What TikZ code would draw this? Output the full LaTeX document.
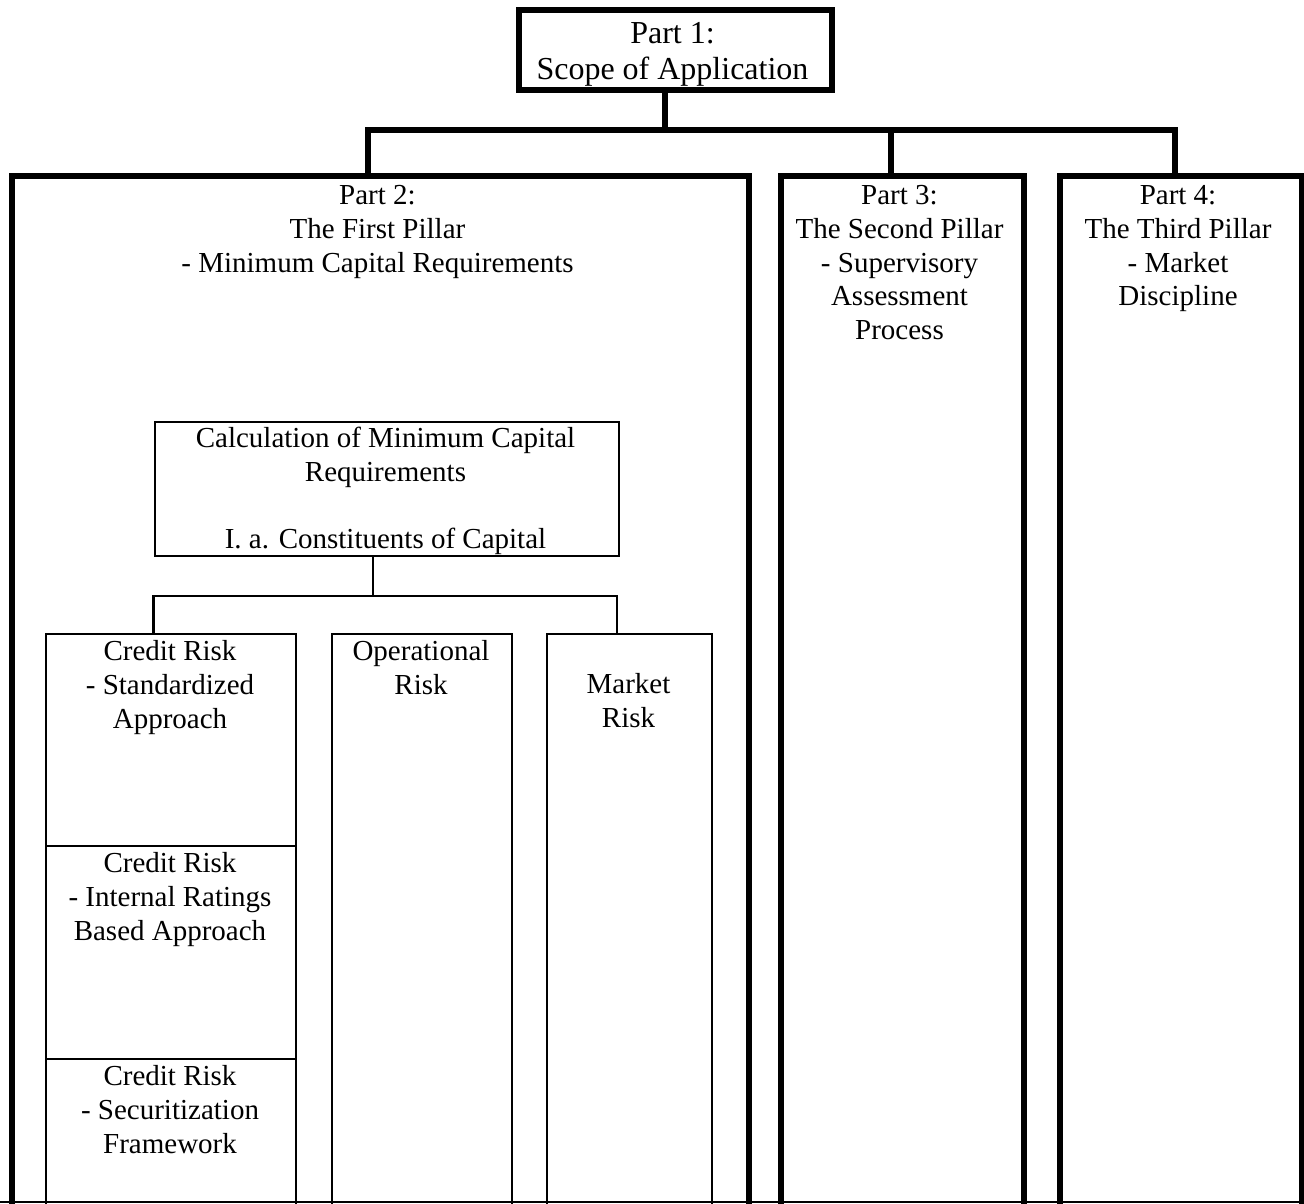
\documentclass[tikz,border=0pt]{standalone}
\usepackage{fontspec}
\setmainfont{Liberation Serif}
\newcommand\mybodyfont{\fontsize{29}{33.7}\selectfont}
\newcommand\mytitlefont{\fontsize{32}{36}\selectfont}
\begin{document}
\begin{tikzpicture}[x=1pt,y=-1pt,
  thickbox/.style={draw,line width=5.5pt,rectangle,inner sep=0pt,anchor=north west},
  thinbox/.style={draw,line width=2.2pt,rectangle,inner sep=0pt,anchor=north west},
  thickline/.style={line width=5.5pt},
  thinline/.style={line width=2.2pt},
  txt/.style={anchor=north,inner sep=0pt,align=center,font=\mybodyfont},
]
\clip (0,0) rectangle (1304,1203);
\fill[white] (0,0) rectangle (1304,1203);

% boxes
\node[thickbox,minimum width=313pt,minimum height=80pt] (p1) at (516,7) {};
\node[thickbox,minimum width=737pt,minimum height=1045pt] (p2) at (9,173) {};
\node[thickbox,minimum width=243pt,minimum height=1045pt] (p3) at (778,173) {};
\node[thickbox,minimum width=242pt,minimum height=1045pt] (p4) at (1057,173) {};
\node[thinbox,minimum width=464pt,minimum height=134pt] (calc) at (153.5,420.5) {};
\node[thinbox,minimum width=250pt,minimum height=212pt] (cr1) at (45,633) {};
\node[thinbox,minimum width=250pt,minimum height=213pt] (cr2) at (45,845) {};
\node[thinbox,minimum width=250pt,minimum height=165pt] (cr3) at (45,1058) {};
\node[thinbox,minimum width=180pt,minimum height=590pt] (op) at (331,633) {};
\node[thinbox,minimum width=165pt,minimum height=590pt] (mr) at (546,633) {};

% texts
\node[txt,font=\mytitlefont] (p1t) at (672.5,18) {\strut Part 1:\\Scope of Application};
\node[txt] (p2t) at (377.5,181) {\strut Part 2:\\The First Pillar\\- Minimum Capital Requirements};
\node[txt] (p3t) at (899.5,181) {\strut Part 3:\\The Second Pillar\\- Supervisory\\Assessment\\Process};
\node[txt] (p4t) at (1178,181) {\strut Part 4:\\The Third Pillar\\- Market\\Discipline};
\node[txt] (calct) at (385.5,424) {\strut Calculation of Minimum Capital\\Requirements\\[33.7pt]I. a. Constituents of Capital};
\node[txt] (cr1t) at (170,637) {\strut Credit Risk\\- Standardized\\Approach};
\node[txt] (cr2t) at (170,849) {\strut Credit Risk\\- Internal Ratings\\Based Approach};
\node[txt] (cr3t) at (170,1062) {\strut Credit Risk\\- Securitization\\Framework};
\node[txt] (opt) at (421,637) {\strut Operational\\Risk};
\node[txt] (mrt) at (628.5,670) {\strut Market\\Risk};

% top-level connectors
\coordinate (j0) at (665,130);
\coordinate (bl) at (368,130);
\coordinate (bm) at (891,130);
\coordinate (br) at (1175,130);
\draw[thickline] (p1.south -| j0) -- (j0);
\draw[thickline] (p2.north -| bl) -- (bl) -- (br) -- (p4.north -| br);
\draw[thickline] (bm) -- (p3.north -| bm);

% inner connectors
\coordinate (k0) at (373,596);
\coordinate (kl) at (153.5,596);
\coordinate (kr) at (617,596);
\draw[thinline] (calc.south -| k0) -- (k0);
\draw[thinline] (cr1.north -| kl) -- (kl) -- (kr) -- (mr.north -| kr);

% bottom edge
\draw[thinline] (0,1202) -- (1304,1202);
\end{tikzpicture}
\end{document}
